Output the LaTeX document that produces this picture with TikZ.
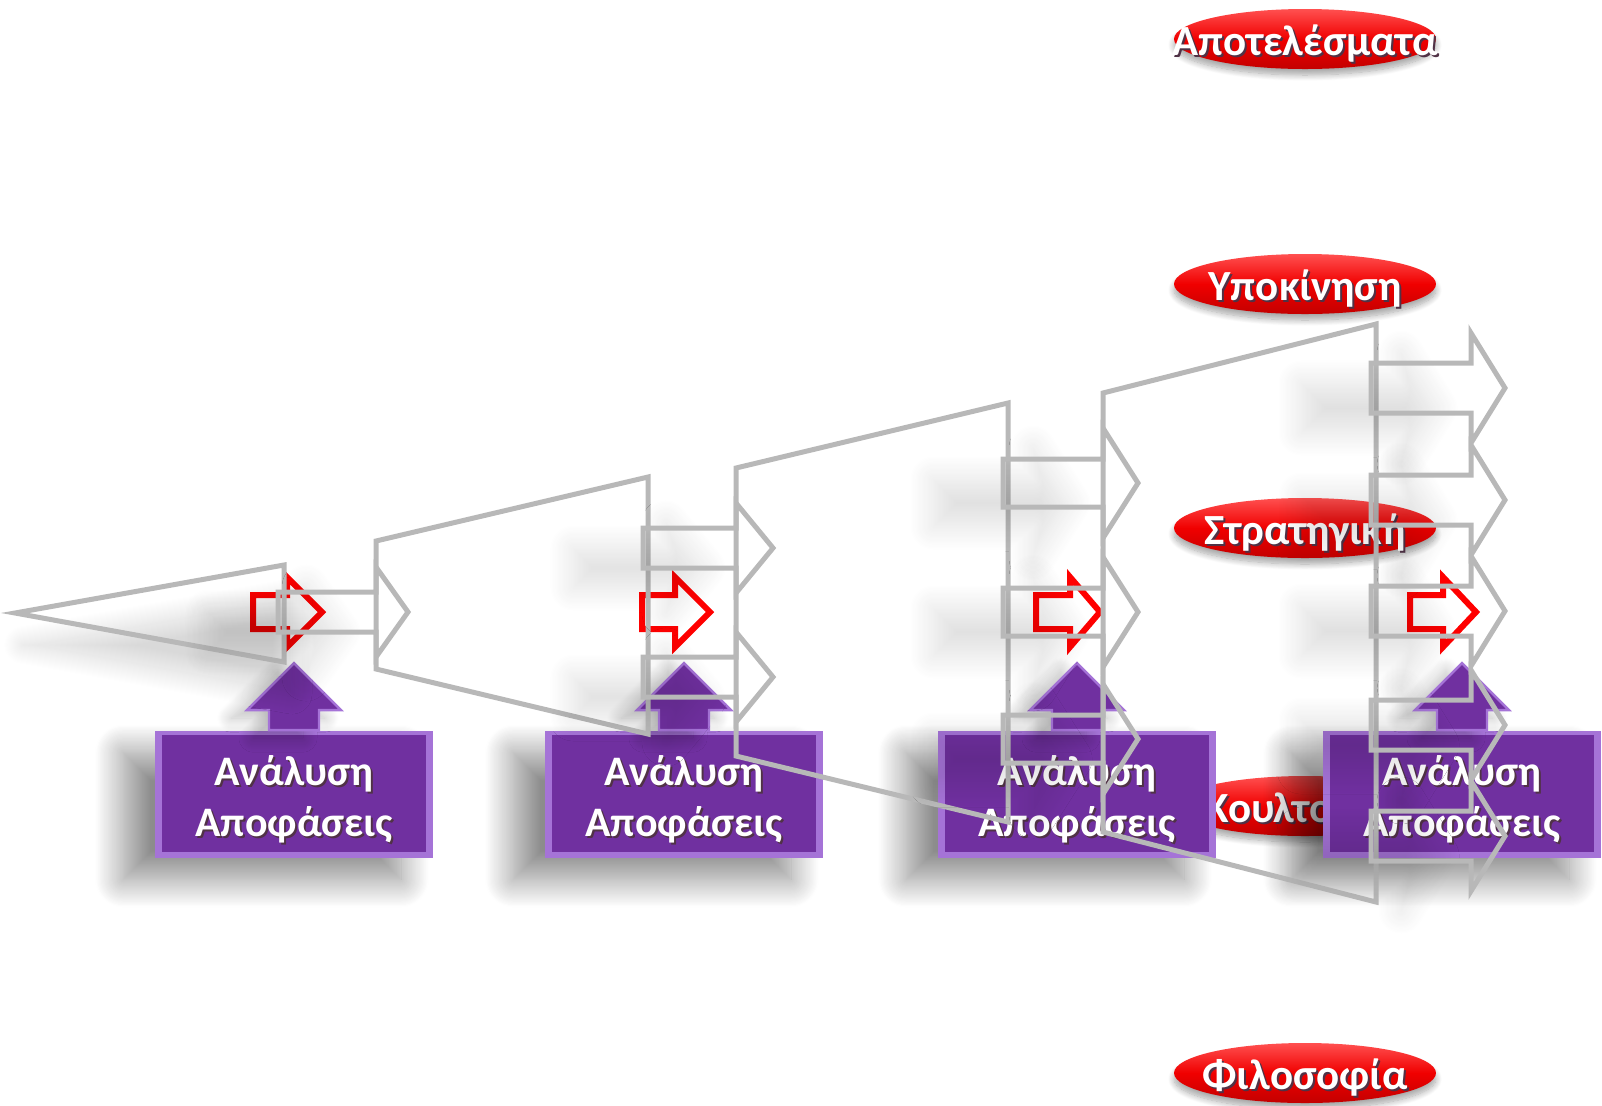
\documentclass[tikz,border=0pt]{standalone}
\usepackage{fontspec}
\setmainfont{Carlito}
\usetikzlibrary{shapes.geometric,shadows.blur}

\definecolor{linegray}{RGB}{184,184,184}
\definecolor{boxpurple}{RGB}{112,48,160}
\definecolor{bevellight}{RGB}{165,115,215}
\definecolor{ovaltop}{RGB}{255,80,80}
\definecolor{ovalred}{RGB}{240,0,0}
\definecolor{ovaldark}{RGB}{195,0,0}
\definecolor{textshade}{RGB}{80,50,70}

% white text with a dark offset copy under it
\newcommand\shtext[1]{\leavevmode\rlap{\hspace{1pt}\raisebox{-1pt}{\color{textshade}#1}}{\color{white}#1}}
\newcommand\ovaltext[1]{\makebox[0pt]{\raisebox{-8pt}[0pt][0pt]{\shtext{#1}}}}

\tikzset{
  funnel/.style={draw=linegray, line width=2.5pt, line join=miter},
  grayarrow/.style={funnel, blur shadow={shadow xshift=-35pt, shadow yshift=-10pt,
      shadow blur radius=12pt, shadow blur steps=20, shadow opacity=12}},
  redarrow/.style={draw=red, line width=3pt, line join=miter},
  decbox/.style={rectangle, fill=bevellight, minimum width=139pt, minimum height=63.5pt,
      inner sep=0pt, align=center, font=\bfseries\fontsize{21}{25.5}\selectfont,
      blur shadow={shadow xshift=-16pt, shadow yshift=-11pt, shadow blur radius=14pt,
        shadow blur steps=25, shadow opacity=45},
      path picture={\fill[boxpurple] ([xshift=3.5pt,yshift=3pt]path picture bounding box.south west)
        rectangle ([xshift=-3.5pt,yshift=-2pt]path picture bounding box.north east);}},
  uparrow/.style={fill=boxpurple, draw=bevellight, line width=1.2pt, line join=miter,
      blur shadow={shadow xshift=-8pt, shadow yshift=-4pt, shadow blur radius=7pt,
        shadow blur steps=15, shadow opacity=25}},
  oval/.style={ellipse, minimum width=131pt, minimum height=30pt, inner sep=0pt,
      top color=ovaltop, bottom color=ovaldark, middle color=ovalred,
      font=\bfseries\fontsize{21.5}{25}\selectfont,
      blur shadow={shadow xshift=0pt, shadow yshift=-3pt, shadow blur radius=3pt,
        shadow blur steps=10, shadow opacity=35}},
}

\begin{document}
\begin{tikzpicture}[x=0.5pt, y=-0.5pt]
  \useasboundingbox (0,0) rectangle (1602,1105);

  % red ovals on the right
  \node[oval] (results) at (1305,39) {\ovaltext{Αποτελέσματα}};
  \node[oval] (motive) at (1305,284) {\ovaltext{Υποκίνηση}};
  \node[oval] (strategy) at (1305,528) {\ovaltext{Στρατηγική}};
  \node[oval] (culture) at (1305,806) {\ovaltext{Κουλτούρα}};
  \node[oval] (philosophy) at (1305,1073) {\ovaltext{Φιλοσοφία}};

  % purple boxes with up arrows
  \node[decbox] (box1) at (294,794) {\rule{0pt}{21pt}\shtext{Ανάλυση}\\\shtext{Αποφάσεις}};
  \node[decbox] (box2) at (684,794) {\rule{0pt}{21pt}\shtext{Ανάλυση}\\\shtext{Αποφάσεις}};
  \node[decbox] (box3) at (1077,794) {\rule{0pt}{21pt}\shtext{Ανάλυση}\\\shtext{Αποφάσεις}};
  \node[decbox] (box4) at (1462,794) {\rule{0pt}{21pt}\shtext{Ανάλυση}\\\shtext{Αποφάσεις}};
  \foreach \b in {box1,box2,box3,box4}
    \draw[uparrow] (\b.north) ++(-25,0) -- ++(0,-20) -- ++(-22,0) -- ++(47,-47)
      -- ++(47,47) -- ++(-22,0) -- ++(0,20) -- cycle;

  % red arrows on the middle line
  \foreach \t/\bx/\tip in {253/287/322, 642/675/710, 1036/1070/1100, 1410/1443/1476}
    \draw[redarrow] (\t,595) -- (\bx,595) -- (\bx,577) -- (\tip,612) -- (\bx,647)
      -- (\bx,629) -- (\t,629) -- cycle;

  % funnel stages
  \draw[funnel, blur shadow={shadow xshift=4pt, shadow yshift=-16pt, shadow blur radius=10pt,
      shadow blur steps=20, shadow opacity=15}] (15,613) -- (284,565) -- (284,662) -- cycle;
  \draw[funnel] (376,541) -- (648,477) -- (648,734) -- (376,669) -- cycle;
  \draw[funnel] (736,468) -- (1008,403) -- (1008,822) -- (736,756) -- cycle;
  \draw[funnel] (1103,393) -- (1376,324) -- (1376,902) -- (1103,832) -- cycle;

  % arrows between stages
  \draw[grayarrow] (278,592) -- (376,592) -- (376,567) -- (408,612) -- (376,657)
    -- (376,632) -- (278,632) -- cycle;
  \foreach \y in {548,677}
    \draw[grayarrow] (643,\y-20) -- (736,\y-20) -- (736,\y-45) -- (773,\y)
      -- (736,\y+45) -- (736,\y+20) -- (643,\y+20) -- cycle;
  \foreach \y in {483,612,739}
    \draw[grayarrow] (1003,\y-24) -- (1103,\y-24) -- (1103,\y-55) -- (1138,\y)
      -- (1103,\y+55) -- (1103,\y+24) -- (1003,\y+24) -- cycle;
  \foreach \y in {388,500,611,725,836}
    \draw[grayarrow] (1371,\y-25) -- (1471,\y-25) -- (1471,\y-55) -- (1505,\y)
      -- (1471,\y+55) -- (1471,\y+25) -- (1371,\y+25) -- cycle;
\end{tikzpicture}
\end{document}
